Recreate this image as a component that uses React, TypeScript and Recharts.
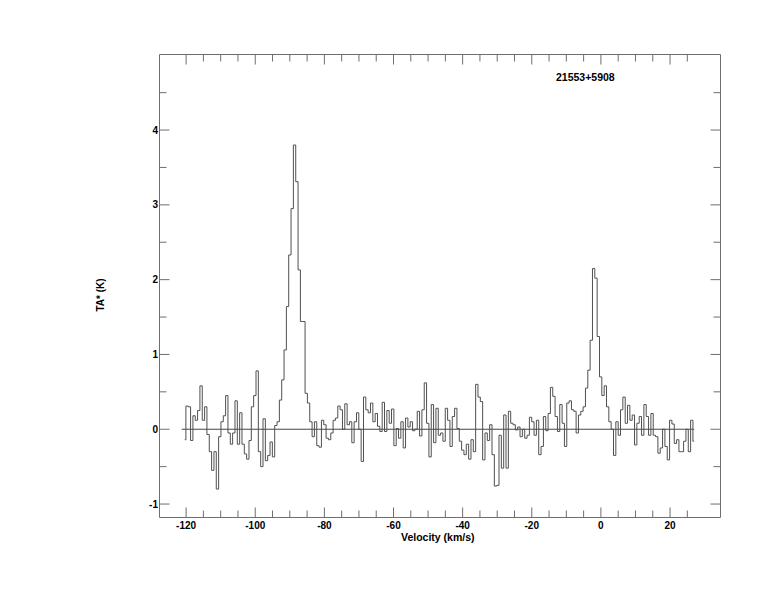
import { LineChart, Line, XAxis, YAxis, ReferenceLine } from 'recharts';

// channel grid (km/s)
const V_START = -120.4;
const V_STEP = 0.676;

// antenna temperature TA* (K), read channel by channel
const baselineLeft = [
  -0.14, 0.31, 0.3, -0.15, 0.18, 0.12, 0.25, 0.58, 0.12, 0.3,
  -0.07, -0.3, -0.55, -0.3, -0.8, -0.1, 0.1, 0.18, 0.45, -0.05,
  -0.2, -0.05, 0.38, -0.2, 0.22, -0.2, -0.33, -0.4, -0.15, 0.3,
  0.45, 0.78, -0.3, -0.5, 0.14, -0.42, -0.35, -0.17, -0.37, 0.05,
];
const peakFar = [
  0.1, 0.39, 0.66, 1.06, 1.64, 2.33, 2.95, 3.8, 3.31, 2.13,
  1.44, 1.44, 0.48, 0.35, 0.1, -0.1,
];
const baselineMid = [
  0.1, -0.22, -0.24, 0.12, 0.06, -0.12, -0.14, -0.05, 0.12, 0.15,
  0.31, 0.26, 0.0, 0.34, 0.06, 0.1, -0.18, 0.1, 0.22, 0.0,
  -0.43, 0.43, 0.26, 0.22, 0.35, 0.1, 0.21, 0.04, -0.03, 0.36,
  -0.03, 0.25, 0.08, 0.27, -0.22, 0.01, -0.12, 0.1, -0.25, 0.15,
  0.03, 0.1, -0.02, 0.0, 0.24, -0.09, 0.26, 0.62, 0.08,
];
const baselineRight = [
  -0.37, 0.33, -0.18, 0.28, -0.08, -0.05, -0.16, 0.28, 0.12, -0.23,
  0.17, 0.28, 0.01, -0.16, -0.28, -0.34, -0.2, -0.4, -0.14, -0.3,
  0.6, 0.43, 0.37, -0.41, -0.05, -0.15, 0.06, -0.34, -0.76, -0.75,
  -0.08, -0.52, 0.19, -0.52, 0.24, 0.08, 0.06, -0.01, 0.03, -0.1,
  0.0, -0.12, -0.08, 0.16, 0.1, -0.08, 0.12, -0.34, -0.23, 0.17,
  -0.02, 0.21, 0.56, 0.44, 0.17, -0.03, 0.33, 0.08, -0.23, 0.35,
  0.38, 0.26, 0.24, -0.05, 0.19, 0.24, 0.3,
];
const peakNear = [
  0.55, 0.79, 1.19, 2.15, 2.02, 1.24, 0.7, 0.45, 0.58, 0.3,
  0.1, 0.0, -0.35, 0.1, -0.08, 0.26, 0.43, 0.08, 0.32, 0.12,
  0.19, -0.21, 0.08, 0.17, -0.08, 0.33, 0.17, -0.08, 0.21, -0.08,
  -0.1, -0.32, -0.25, 0.0, -0.23, -0.41, 0.12, 0.07, -0.19, -0.14,
  -0.3, -0.3, -0.16, 0.0, -0.3, 0.12, -0.16,
];

const X_TICKS = [
  -120, -115, -110, -105, -100, -95, -90, -85, -80, -75, -70, -65, -60, -55, -50,
  -45, -40, -35, -30, -25, -20, -15, -10, -5, 0, 5, 10, 15, 20, 25,
];
const Y_TICKS = [-1, -0.5, 0, 0.5, 1, 1.5, 2, 2.5, 3, 3.5, 4, 4.5];

const SOURCE = '21553+5908';
const X_TITLE = 'Velocity (km/s)';
const Y_TITLE = 'TA* (K)';

const FRAME = '#6e6e6e';
const TRACE = '#505050';
const FONT = '"Liberation Sans", Arial, sans-serif';

const spectrum = [...baselineLeft, ...peakFar, ...baselineMid, ...baselineRight, ...peakNear];
const data = spectrum.map((t, i) => ({ v: V_START + i * V_STEP, t }));
const vFirst = data[0].v - V_STEP * 1.3;
const vLast = data[data.length - 1].v;

const isMajorX = (v: number) => v % 20 === 0;
const isMajorY = (v: number) => Number.isInteger(v);

function BottomTick(props: any) {
  const { x, y, payload } = props;
  const major = isMajorX(payload.value);
  return (
    <g>
      <line x1={x} x2={x} y1={y} y2={y - (major ? 10 : 7)} stroke={FRAME} />
      {major && (
        <text x={x} y={y + 11.5} textAnchor="middle" fontSize={10} fontWeight="bold" fontFamily={FONT} fill="#000">
          {payload.value}
        </text>
      )}
    </g>
  );
}

function TopTick(props: any) {
  const { x, y, payload } = props;
  const major = isMajorX(payload.value);
  return <line x1={x} x2={x} y1={y} y2={y + (major ? 10 : 7)} stroke={FRAME} />;
}

function LeftTick(props: any) {
  const { x, y, payload } = props;
  const major = isMajorY(payload.value);
  return (
    <g>
      <line x1={x} x2={x + (major ? 10 : 7)} y1={y} y2={y} stroke={FRAME} />
      {major && (
        <text x={x - 1.5} y={y + 3.6} textAnchor="end" fontSize={10} fontWeight="bold" fontFamily={FONT} fill="#000">
          {payload.value}
        </text>
      )}
    </g>
  );
}

function RightTick(props: any) {
  const { x, y, payload } = props;
  const major = isMajorY(payload.value);
  return <line x1={x} x2={x - (major ? 10 : 7)} y1={y} y2={y} stroke={FRAME} />;
}

export default function App() {
  return (
    <div style={{ position: 'relative', width: 774, height: 612, margin: -8, background: '#fff' }}>
      <LineChart width={774} height={612} data={data} margin={{ top: 44.5, right: 43.5, bottom: 64.5, left: 99.5 }}>
        <XAxis
          xAxisId="b"
          dataKey="v"
          type="number"
          domain={[-127.7, 34.6]}
          allowDataOverflow
          ticks={X_TICKS}
          interval={0}
          height={30}
          tickSize={0}
          tickMargin={0}
          tickLine={false}
          axisLine={{ stroke: FRAME }}
          tick={<BottomTick />}
        />
        <XAxis
          xAxisId="t"
          orientation="top"
          dataKey="v"
          type="number"
          domain={[-127.7, 34.6]}
          allowDataOverflow
          ticks={X_TICKS}
          interval={0}
          height={10}
          tickSize={0}
          tickMargin={0}
          tickLine={false}
          axisLine={{ stroke: FRAME }}
          tick={<TopTick />}
        />
        <YAxis
          yAxisId="l"
          type="number"
          domain={[-1.18, 5.01]}
          allowDataOverflow
          ticks={Y_TICKS}
          interval={0}
          width={60}
          tickSize={0}
          tickMargin={0}
          tickLine={false}
          axisLine={{ stroke: FRAME }}
          tick={<LeftTick />}
        />
        <YAxis
          yAxisId="r"
          orientation="right"
          type="number"
          domain={[-1.18, 5.01]}
          allowDataOverflow
          ticks={Y_TICKS}
          interval={0}
          width={10}
          tickSize={0}
          tickMargin={0}
          tickLine={false}
          axisLine={{ stroke: FRAME }}
          tick={<RightTick />}
        />
        <ReferenceLine
          xAxisId="b"
          yAxisId="l"
          segment={[{ x: vFirst, y: 0 }, { x: vLast, y: 0 }]}
          stroke="#444"
          strokeWidth={1}
        />
        <Line
          xAxisId="b"
          yAxisId="l"
          dataKey="t"
          type="step"
          stroke={TRACE}
          strokeWidth={1}
          dot={false}
          isAnimationActive={false}
        />
      </LineChart>
      <svg width={774} height={612} style={{ position: 'absolute', left: 0, top: 0, pointerEvents: 'none' }}>
        <text x={556} y={80.7} fontSize={10.5} fontWeight="bold" fontFamily={FONT} fill="#000">
          {SOURCE}
        </text>
        <text x={401} y={541} fontSize={10.5} fontWeight="bold" fontFamily={FONT} fill="#000">
          {X_TITLE}
        </text>
        <text
          x={100}
          y={295}
          textAnchor="middle"
          dominantBaseline="central"
          fontSize={10}
          fontWeight="bold"
          fontFamily={FONT}
          fill="#000"
          transform="rotate(-90 100 295)"
        >
          {Y_TITLE}
        </text>
      </svg>
    </div>
  );
}
